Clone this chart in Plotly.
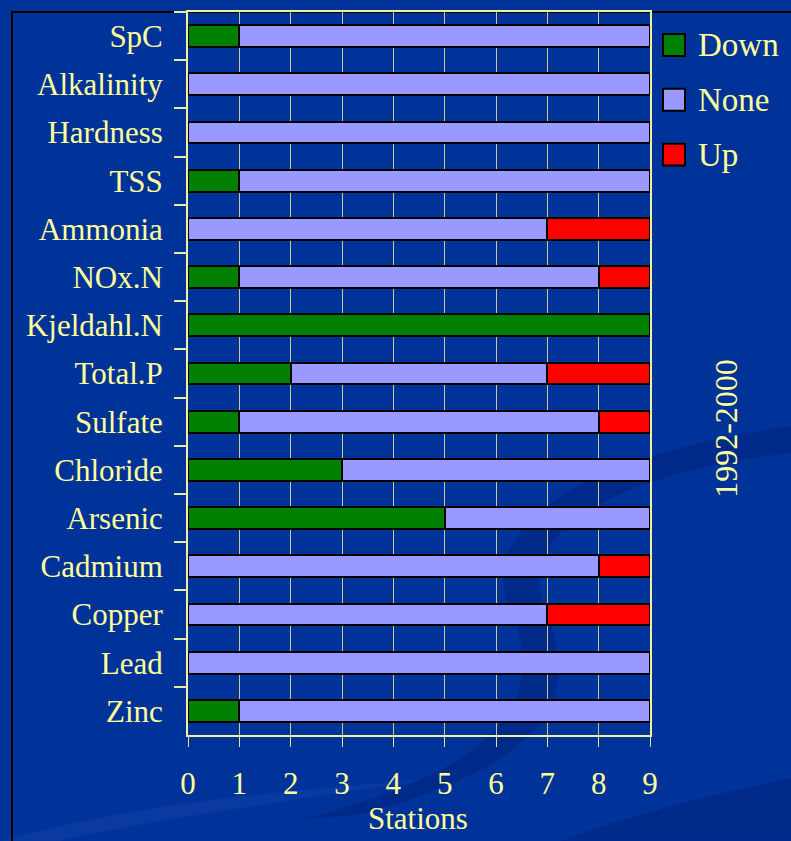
import plotly.graph_objects as go

categories = ["SpC", "Alkalinity", "Hardness", "TSS", "Ammonia", "NOx.N", "Kjeldahl.N",
              "Total.P", "Sulfate", "Chloride", "Arsenic", "Cadmium", "Copper", "Lead", "Zinc"]
down = [1, 0, 0, 1, 0, 1, 9, 2, 1, 3, 5, 0, 0, 0, 1]
none = [8, 9, 9, 8, 7, 7, 0, 5, 7, 6, 4, 8, 7, 9, 8]
up = [0, 0, 0, 0, 2, 1, 0, 2, 1, 0, 0, 1, 2, 0, 0]
series_names = ["Down", "None", "Up"]
series_colors = ["#008000", "#9999FF", "#FF0000"]
x_ticks = list(range(0, 10))

W, H = 791, 841
L, R, T, B = 188, 650, 10, 735
BG = "#003399"
TXT = "#FFFF99"
FONT = "Liberation Serif"


def px(x):
    return (x - L) / (R - L)


def py(y):
    return 1 - (y - T) / (B - T)


def path(points):
    out = []
    for cmd, coords in points:
        pts = " ".join(f"{px(coords[i]):.4f},{py(coords[i + 1]):.4f}" for i in range(0, len(coords), 2))
        out.append(f"{cmd} {pts}")
    return " ".join(out) + " Z"


fig = go.Figure()
for name, vals, col in zip(series_names, [down, none, up], series_colors):
    fig.add_trace(go.Bar(
        y=categories, x=vals, name=name, orientation="h",
        marker=dict(color=col, line=dict(color="black", width=2)),
        showlegend=False,
    ))

swirl1 = path([("M", [791, 425]), ("C", [620, 450, 470, 510, 510, 610]),
               ("C", [550, 700, 500, 770, 300, 820]),
               ("L", [360, 815]),
               ("C", [560, 760, 580, 690, 545, 610]),
               ("C", [510, 520, 640, 470, 791, 452])])
swirl2 = path([("M", [560, 841]), ("C", [660, 805, 740, 790, 791, 778]), ("L", [791, 841])])
swirl3 = path([("M", [0, 841]), ("C", [150, 800, 300, 790, 420, 780]),
               ("C", [300, 800, 150, 820, 60, 841])])

shapes = [
    dict(type="path", xref="paper", yref="paper", path=swirl1,
         fillcolor="rgba(0,25,110,0.35)", line=dict(width=0), layer="below"),
    dict(type="path", xref="paper", yref="paper", path=swirl2,
         fillcolor="rgba(0,25,110,0.35)", line=dict(width=0), layer="below"),
    dict(type="path", xref="paper", yref="paper", path=swirl3,
         fillcolor="rgba(40,80,180,0.25)", line=dict(width=0), layer="below"),
    dict(type="rect", xref="paper", yref="paper", x0=px(12), x1=px(810), y0=py(860), y1=py(10),
         line=dict(color="black", width=2), fillcolor="rgba(0,0,0,0)", layer="below"),
]
annotations = []
leg_y = [43, 98, 153]
for name, col, yc in zip(series_names, series_colors, leg_y):
    shapes.append(dict(type="rect", xref="paper", yref="paper",
                       x0=px(663), x1=px(685), y0=py(yc + 11), y1=py(yc - 11),
                       fillcolor=col, line=dict(color="black", width=2)))
    annotations.append(dict(text=name, xref="paper", yref="paper", x=px(696), y=py(yc),
                            xanchor="left", yanchor="middle", showarrow=False,
                            font=dict(family=FONT, size=33, color=TXT)))
annotations.append(dict(text="1992-2000", xref="paper", yref="paper", x=px(726), y=py(428),
                        xanchor="center", yanchor="middle", showarrow=False, textangle=-90,
                        font=dict(family=FONT, size=32, color=TXT)))
annotations.append(dict(text="Stations", xref="paper", yref="paper", x=px(418), y=py(819),
                        xanchor="center", yanchor="middle", showarrow=False,
                        font=dict(family=FONT, size=31, color=TXT)))

fig.update_layout(
    barmode="stack",
    bargap=0.55,
    width=W, height=H,
    margin=dict(l=L, r=W - R, t=T, b=H - B, pad=0),
    paper_bgcolor=BG, plot_bgcolor="rgba(0,0,0,0)",
    font=dict(family=FONT, size=31, color=TXT),
    shapes=shapes, annotations=annotations,
    xaxis=dict(range=[0, 9], tickvals=x_ticks, showgrid=True, gridcolor="#C8C890", gridwidth=1,
               zeroline=False, showline=True, linecolor="#F0F0A0", linewidth=2, mirror=True,
               ticks="outside", ticklen=10, tickcolor="#E0E0A0", tickwidth=1,
               ticklabelstandoff=10, tickfont=dict(family=FONT, size=31, color=TXT)),
    yaxis=dict(categoryorder="array", categoryarray=categories, autorange="reversed",
               tickson="boundaries", ticks="outside", ticklen=12, tickcolor="#E8E8A0", tickwidth=2,
               showgrid=False, showline=True, linecolor="#F0F0A0", linewidth=2, mirror=True,
               ticklabelstandoff=17, tickfont=dict(family=FONT, size=31, color=TXT)),
)

fig.write_html("out.html")
